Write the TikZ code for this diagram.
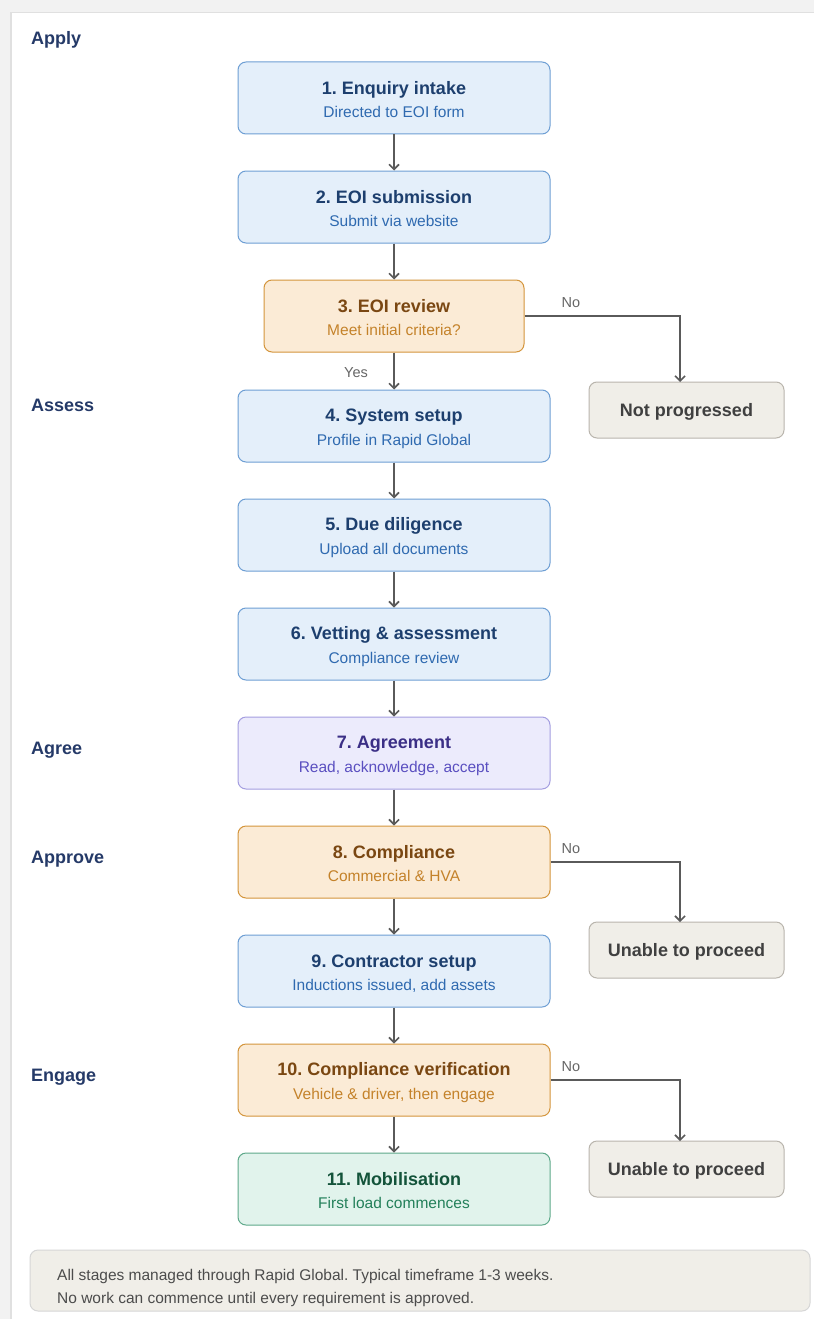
\documentclass[tikz,border=0pt]{standalone}
\usepackage{fontspec}
\setmainfont{Liberation Sans}
\usetikzlibrary{arrows.meta}
\frenchspacing
\definecolor{bFill}{HTML}{E4EFFA}
\definecolor{bDraw}{HTML}{6E9FD4}
\definecolor{bTitle}{HTML}{1D3F6E}
\definecolor{bSub}{HTML}{2F6AB0}
\definecolor{oFill}{HTML}{FBEBD6}
\definecolor{oDraw}{HTML}{D4953C}
\definecolor{oTitle}{HTML}{7A4712}
\definecolor{oSub}{HTML}{C4822A}
\definecolor{pFill}{HTML}{ECEBFC}
\definecolor{pDraw}{HTML}{A49EE0}
\definecolor{pTitle}{HTML}{3B2F86}
\definecolor{pSub}{HTML}{5A4FC0}
\definecolor{gFill}{HTML}{E1F3EC}
\definecolor{gDraw}{HTML}{5EA98A}
\definecolor{gTitle}{HTML}{13533A}
\definecolor{gSub}{HTML}{23805A}
\definecolor{nFill}{HTML}{F0EEE8}
\definecolor{nDraw}{HTML}{B9B5AD}
\definecolor{nText}{HTML}{404040}
\definecolor{phase}{HTML}{253A68}
\definecolor{arrowc}{HTML}{5A5A5A}
\definecolor{lblc}{HTML}{666666}
\newcommand\twoline[3]{\parbox{250pt}{\centering\fontsize{18}{20}\selectfont\bfseries\rule{0pt}{18.5pt}#1\par
  \fontsize{15.5}{23.4}\selectfont\mdseries\color{#3}#2\rule[-2.5pt]{0pt}{2.5pt}\par}}
\tikzset{
  box/.style={rounded corners=8pt, line width=1pt, minimum width=312pt, minimum height=72pt, align=center, inner sep=0pt},
  bluebox/.style={box, draw=bDraw, fill=bFill, text=bTitle},
  orangebox/.style={box, draw=oDraw, fill=oFill, text=oTitle},
  purplebox/.style={box, draw=pDraw, fill=pFill, text=pTitle},
  greenbox/.style={box, draw=gDraw, fill=gFill, text=gTitle},
  endbox/.style={rounded corners=8pt, line width=1pt, draw=nDraw, fill=nFill, text=nText, minimum width=195pt, minimum height=56pt, font=\bfseries\fontsize{18}{20}\selectfont, inner sep=0pt, text height=13pt, text depth=0pt},
  phaselbl/.style={anchor=base west, text=phase, font=\bfseries\fontsize{18}{20}\selectfont, inner sep=0pt},
  arr/.style={draw=arrowc, line width=1.6pt, -{Straight Barb[length=5pt,width=10pt,line width=1.6pt]}},
  yn/.style={anchor=base, text=lblc, font=\fontsize{14.5}{16}\selectfont, inner sep=0pt}
}
\begin{document}
\begin{tikzpicture}[x=1pt,y=-1pt]
\useasboundingbox (0,0) rectangle (814,1319);
\fill[white] (0,0) rectangle (814,1319);
\fill[black!5] (0,0) rectangle (814,12);
\fill[black!5] (0,0) rectangle (11,1319);
\draw[black!12, line width=1.5pt] (11,1319) -- (11,12.5) -- (814,12.5);

\node[phaselbl] (ph1) at (31,45) {Apply};
\node[phaselbl] (ph2) at (31,411.5) {Assess};
\node[phaselbl] (ph3) at (31,754.5) {Agree};
\node[phaselbl] (ph4) at (31,863.5) {Approve};
\node[phaselbl] (ph5) at (31,1081.5) {Engage};

\node[bluebox] (s1) at (394,98) {\twoline{1. Enquiry intake}{Directed to EOI form}{bSub}};
\node[bluebox] (s2) at (394,207) {\twoline{2. EOI submission}{Submit via website}{bSub}};
\node[orangebox, minimum width=260pt] (s3) at (394,316) {\twoline{3. EOI review}{Meet initial criteria?}{oSub}};
\node[bluebox] (s4) at (394,426) {\twoline{4. System setup}{Profile in Rapid Global}{bSub}};
\node[bluebox] (s5) at (394,535) {\twoline{5. Due diligence}{Upload all documents}{bSub}};
\node[bluebox] (s6) at (394,644) {\twoline{6. Vetting \& assessment}{Compliance review}{bSub}};
\node[purplebox] (s7) at (394,753) {\twoline{7. Agreement}{Read, acknowledge, accept}{pSub}};
\node[orangebox] (s8) at (394,862) {\twoline{8. Compliance}{Commercial \& HVA}{oSub}};
\node[bluebox] (s9) at (394,971) {\twoline{9. Contractor setup}{Inductions issued, add assets}{bSub}};
\node[orangebox] (s10) at (394,1080) {\twoline{10. Compliance verification}{Vehicle \& driver, then engage}{oSub}};
\node[greenbox] (s11) at (394,1189) {\twoline{11. Mobilisation}{First load commences}{gSub}};

\node[endbox] (e1) at (686.5,410) {Not progressed};
\node[endbox] (e2) at (686.5,950) {Unable to proceed};
\node[endbox] (e3) at (686.5,1169) {Unable to proceed};

\coordinate (c1) at (680,382);
\coordinate (c2) at (680,922);
\coordinate (c3) at (680,1141);

\draw[arr] (s1) -- (s2);
\draw[arr] (s2) -- (s3);
\draw[arr] (s3) -- (s4);
\draw[arr] (s4) -- (s5);
\draw[arr] (s5) -- (s6);
\draw[arr] (s6) -- (s7);
\draw[arr] (s7) -- (s8);
\draw[arr] (s8) -- (s9);
\draw[arr] (s9) -- (s10);
\draw[arr] (s10) -- (s11);

\draw[arr] (s3.east) -| (c1);
\draw[arr] (s8.east) -| (c2);
\draw[arr] (s10.east) -| (c3);

\node[yn] (n1) at (571,307) {No};
\node[yn] (n2) at (571,853) {No};
\node[yn] (n3) at (571,1071) {No};
\node[yn] (y1) at (356,377) {Yes};

\node[rounded corners=8pt, line width=1pt, draw=black!16, fill=nFill, minimum width=780pt, minimum height=61pt, inner sep=0pt] (foot) at (420,1280.5) {};
\node[anchor=west, text=black!70, font=\fontsize{15.5}{23}\selectfont, align=left, inner sep=0pt] (foottext) at (57,1287.5) {All stages managed through Rapid Global. Typical timeframe 1-3 weeks.\\No work can commence until every requirement is approved.};
\end{tikzpicture}
\end{document}
